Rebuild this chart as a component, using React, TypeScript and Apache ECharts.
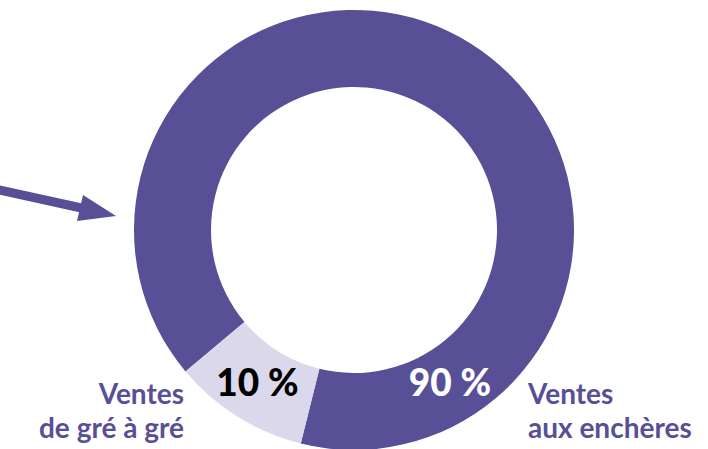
import React, { useEffect, useRef } from "react";
import * as echarts from "echarts";

const categories = ["Ventes aux enchères", "Ventes de gré à gré"];
const shares = [90, 10];
const sliceColors = ["#575096", "#DCD8EC"];
const shareLabelColors = ["#ffffff", "#000000"];
const categoryLines = [
  ["Ventes", "aux enchères"],
  ["Ventes", "de gré à gré"],
];

const FONT = "Lato";
const PURPLE = "#575096";

export default function App() {
  const ref = useRef<HTMLDivElement>(null);
  useEffect(() => {
    if (!ref.current) return;
    const chart = echarts.init(ref.current, undefined, { renderer: "svg" });
    const shareText = (v: number) => `${v} %`;
    chart.setOption({
      animation: false,
      backgroundColor: "#ffffff",
      series: [
        {
          type: "pie",
          center: [354, 230],
          radius: [143, 220],
          startAngle: 220,
          clockwise: true,
          silent: true,
          z: 1,
          label: { show: false },
          labelLine: { show: false },
          itemStyle: { borderWidth: 0 },
          data: categories.map((name, i) => ({
            name,
            value: shares[i],
            itemStyle: { color: sliceColors[i] },
          })),
        },
      ],
      graphic: [
        {
          type: "line",
          z: 10,
          shape: { x1: -5, y1: 189, x2: 86, y2: 209 },
          style: { stroke: PURPLE, lineWidth: 9 },
        },
        {
          type: "polygon",
          z: 10,
          shape: { points: [[116, 216], [83, 195], [77, 221]] },
          style: { fill: PURPLE },
        },
        {
          type: "text",
          z: 100,
          x: 450,
          y: 381,
          style: {
            text: shareText(shares[0]),
            fill: shareLabelColors[0],
            font: `900 37px ${FONT}`,
            align: "center",
            verticalAlign: "middle",
          },
        },
        {
          type: "text",
          z: 100,
          x: 257.5,
          y: 381,
          style: {
            text: shareText(shares[1]),
            fill: shareLabelColors[1],
            font: `900 37px ${FONT}`,
            align: "center",
            verticalAlign: "middle",
          },
        },
        {
          type: "text",
          z: 100,
          x: 528,
          y: 410,
          style: {
            text: categoryLines[0].join("\n"),
            fill: PURPLE,
            font: `bold 28px ${FONT}`,
            lineHeight: 34,
            align: "left",
            verticalAlign: "middle",
          },
        },
        {
          type: "text",
          z: 100,
          x: 184,
          y: 410,
          style: {
            text: categoryLines[1].join("\n"),
            fill: PURPLE,
            font: `bold 28px ${FONT}`,
            lineHeight: 34,
            align: "right",
            verticalAlign: "middle",
          },
        },
      ],
    });
    return () => chart.dispose();
  }, []);
  return (
    <div
      ref={ref}
      style={{ position: "fixed", left: 0, top: 0, width: 708, height: 449 }}
    />
  );
}
